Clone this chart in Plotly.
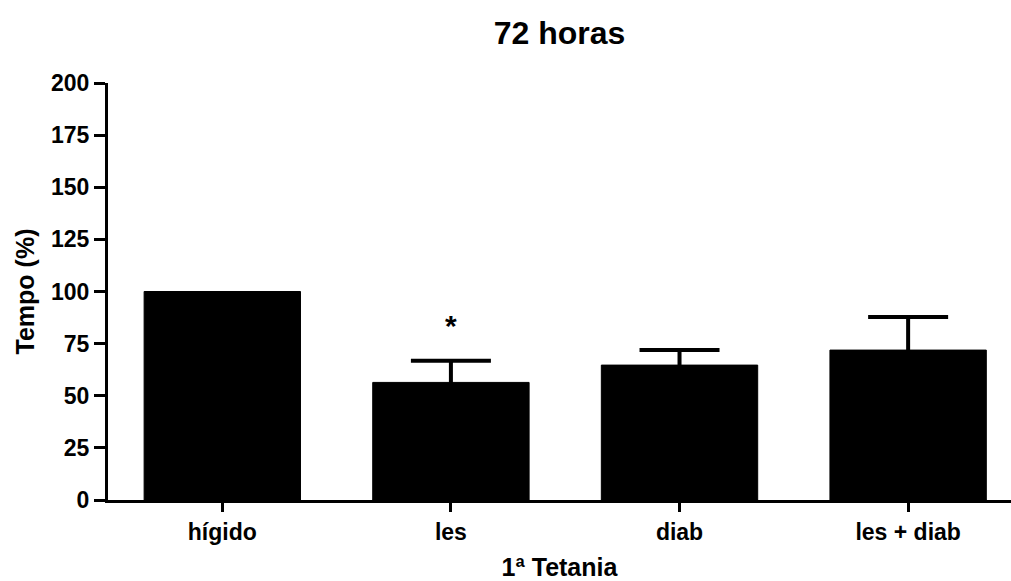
import plotly.graph_objects as go

# Groups and measured values (mean and SEM; the control group has no spread)
groups = ["hígido", "les", "diab", "les + diab"]
tempo_pct = [100.0, 56.4, 64.7, 71.9]
sem_pct = [0.0, 10.4, 7.2, 15.9]
y_ticks = [0, 25, 50, 75, 100, 125, 150, 175, 200]
significant = ["les"]

FONT = "Liberation Sans, Arial, sans-serif"

fig = go.Figure()
fig.add_trace(go.Bar(
    x=groups,
    y=tempo_pct,
    width=0.684,
    marker=dict(color="black", line=dict(color="black", width=1)),
    showlegend=False,
))

# Error bars only for groups that have a spread; the lower half is hidden
# inside the black bar, so only the upper whisker shows
err_idx = [i for i, s in enumerate(sem_pct) if s > 0]
fig.add_trace(go.Scatter(
    x=[groups[i] for i in err_idx],
    y=[tempo_pct[i] for i in err_idx],
    mode="markers",
    marker=dict(size=1, color="black", opacity=0),
    error_y=dict(
        type="data",
        array=[sem_pct[i] for i in err_idx],
        symmetric=True,
        color="black",
        thickness=4,
        width=40,
    ),
    showlegend=False,
    hoverinfo="skip",
))

# Significance marker above the error bar
for g in significant:
    i = groups.index(g)
    fig.add_annotation(
        x=g, y=tempo_pct[i] + sem_pct[i] + 17,
        text="<b>*</b>", showarrow=False,
        font=dict(family=FONT, size=30, color="black"),
        yanchor="middle",
    )

fig.update_layout(
    width=1011, height=581,
    margin=dict(l=108, r=0, t=83, b=81),
    paper_bgcolor="white", plot_bgcolor="white",
    title=dict(
        text="<b>72 horas</b>",
        x=0.5, xanchor="center", xref="paper",
        y=1 - 33 / 581, yanchor="middle",
        font=dict(family=FONT, size=32, color="black"),
    ),
    xaxis=dict(
        range=[-0.5, 3.45],
        showline=True, linecolor="black", linewidth=3,
        ticks="outside", ticklen=9, tickwidth=3, tickcolor="black",
        tickfont=dict(family=FONT, size=23, color="black"),
        title=dict(text="<b>1ª Tetania</b>",
                   font=dict(family=FONT, size=25, color="black"),
                   standoff=16),
        showgrid=False, zeroline=False,
        tickprefix="<b>", ticksuffix="</b>",
    ),
    yaxis=dict(
        range=[0, 200],
        tickvals=y_ticks,
        ticktext=[f"<b>{v}</b>" for v in y_ticks],
        showline=True, linecolor="black", linewidth=3,
        ticks="outside", ticklen=11, tickwidth=3, tickcolor="black",
        tickfont=dict(family=FONT, size=23, color="black"),
        title=dict(text="<b>Tempo (%)</b>",
                   font=dict(family=FONT, size=25, color="black"),
                   standoff=10),
        showgrid=False, zeroline=False,
    ),
)

fig.write_html("out.html")
